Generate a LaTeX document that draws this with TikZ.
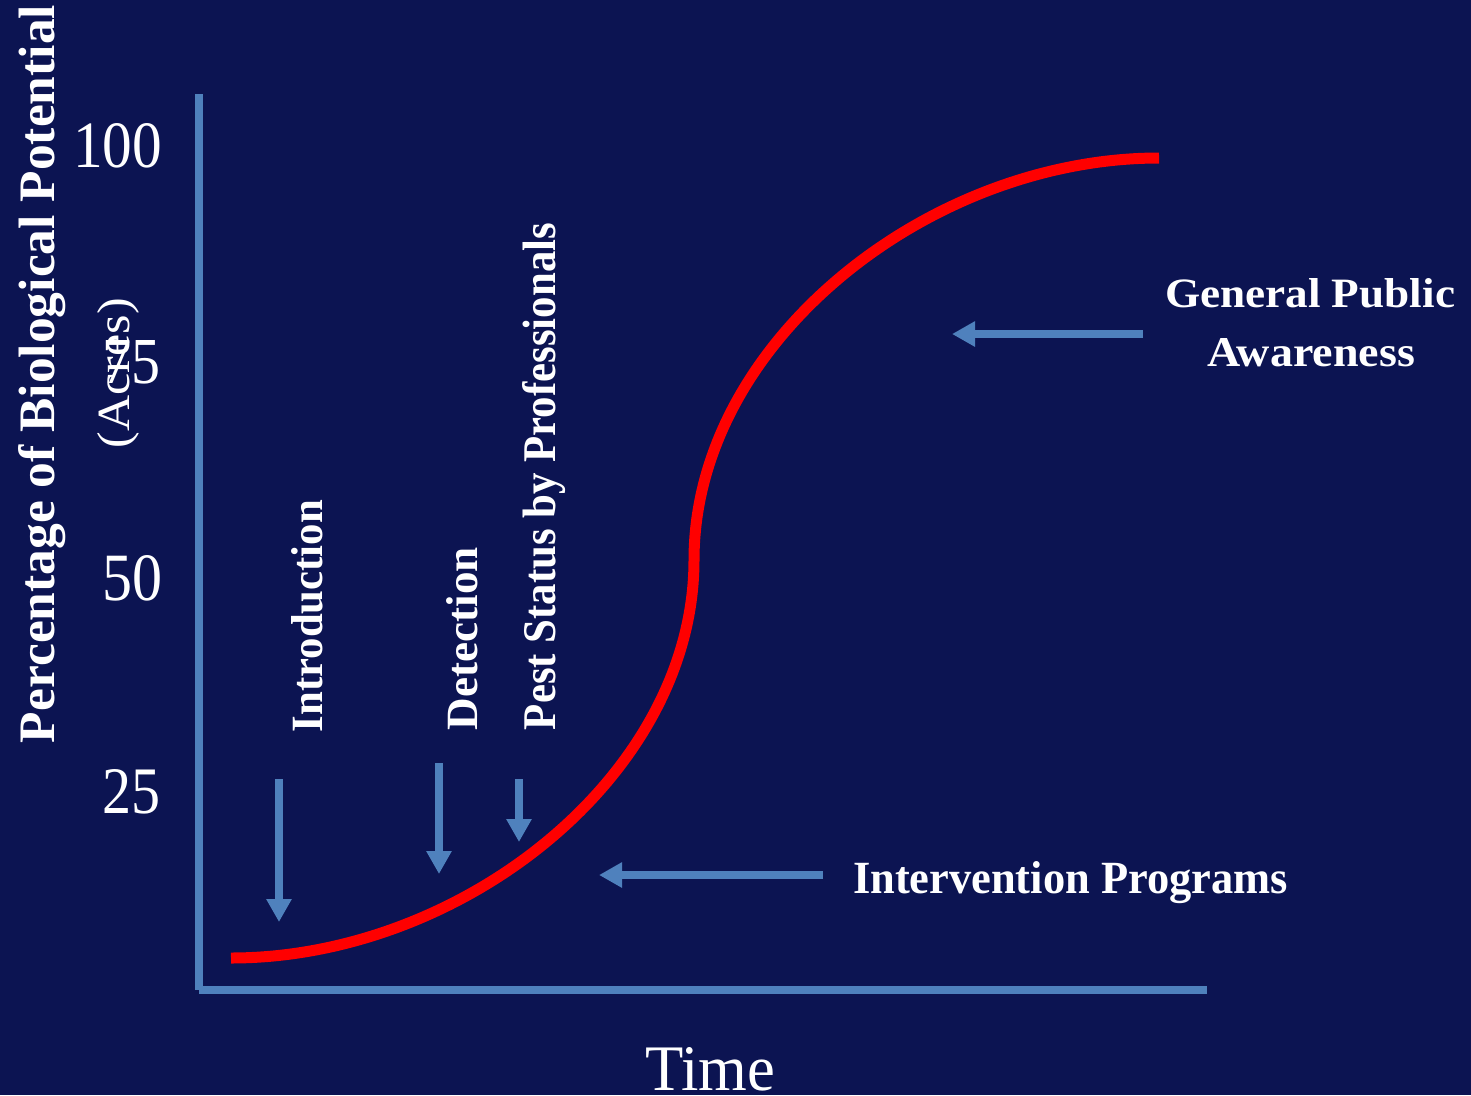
\documentclass[tikz,border=0pt]{standalone}
\usepackage{fontspec}
\setmainfont{Liberation Serif}
\usetikzlibrary{arrows.meta}
\definecolor{bg}{RGB}{12,20,82}
\definecolor{axisblue}{RGB}{79,129,189}
\definecolor{curvered}{RGB}{255,0,0}
\newcommand{\fitto}[3]{\resizebox{#1pt}{#2pt}{#3}}
\begin{document}
\begin{tikzpicture}[x=1pt,y=-1pt,
  lbl/.style={inner sep=0pt, outer sep=0pt, text=white, font=\fontsize{40}{48}\selectfont},
  axisline/.style={draw=axisblue, line width=8pt},
  pointer/.style={draw=axisblue, line width=8pt, -{Triangle[width=24pt,length=23pt]}},
  scurve/.style={draw=curvered, line width=11pt}]
\useasboundingbox (0,0) rectangle (1471,1095);
\fill[bg] (0,0) rectangle (1471,1095);

% axes
\coordinate (ytop) at (199,94);
\coordinate (origin) at (199,990);
\coordinate (xend) at (1207,990);
\draw[axisline] (ytop) -- (origin);
\draw[axisline] (origin) -- (xend);

% pointer arrows
\coordinate (introS) at (279,779);  \coordinate (introE) at (279,922);
\coordinate (detS) at (439,763);    \coordinate (detE) at (439,874);
\coordinate (pestS) at (519,779);   \coordinate (pestE) at (519,842);
\coordinate (intvS) at (823,875);   \coordinate (intvE) at (599,875);
\coordinate (pubS) at (1143,334);   \coordinate (pubE) at (952,334);
\draw[pointer] (introS) -- (introE);
\draw[pointer] (detS) -- (detE);
\draw[pointer] (pestS) -- (pestE);
\draw[pointer] (intvS) -- (intvE);
\draw[pointer] (pubS) -- (pubE);

% S-curve
\coordinate (c0) at (231,958);
\coordinate (cm) at (694,560);
\coordinate (c1) at (1159,158);
\draw[scurve] (c0) .. controls (462,958) and (694,775) .. (cm)
              .. controls (694,343) and (928,158) .. (c1);

% axis title and tick labels
\node[lbl, rotate=90, anchor=base] (ytitle) at (54,374) {\fitto{738}{36}{\bfseries Percentage of Biological Potential}};
\node[lbl, rotate=90, anchor=base] (acres) at (129,373) {\fitto{150}{32}{(Acres)}};
\node[lbl, anchor=base east] (t100) at (162,167) {\fitto{89}{44}{100}};
\node[lbl, anchor=base east] (t75) at (160,383) {\fitto{58}{43}{75}};
\node[lbl, anchor=base east] (t50) at (162,600) {\fitto{60}{45}{50}};
\node[lbl, anchor=base east] (t25) at (160,813) {\fitto{58}{44}{25}};
\node[lbl, anchor=base] (time) at (710,1090) {\fitto{130}{43}{Time}};

% stage labels
\node[lbl, rotate=90, anchor=base] (intro) at (322,616) {\fitto{232}{31}{\bfseries Introduction}};
\node[lbl, rotate=90, anchor=base] (det) at (477,638.5) {\fitto{183}{31}{\bfseries Detection}};
\node[lbl, rotate=90, anchor=base] (pest) at (555,476.5) {\fitto{507}{33}{\bfseries Pest Status by Professionals}};
\node[lbl, anchor=base] (pub1) at (1310,307) {\fitto{290}{29}{\bfseries General Public}};
\node[lbl, anchor=base] (pub2) at (1311,366) {\fitto{208}{28}{\bfseries Awareness}};
\node[lbl, anchor=base west] (intv) at (853,893) {\fitto{435}{32}{\bfseries Intervention Programs}};
\end{tikzpicture}
\end{document}
